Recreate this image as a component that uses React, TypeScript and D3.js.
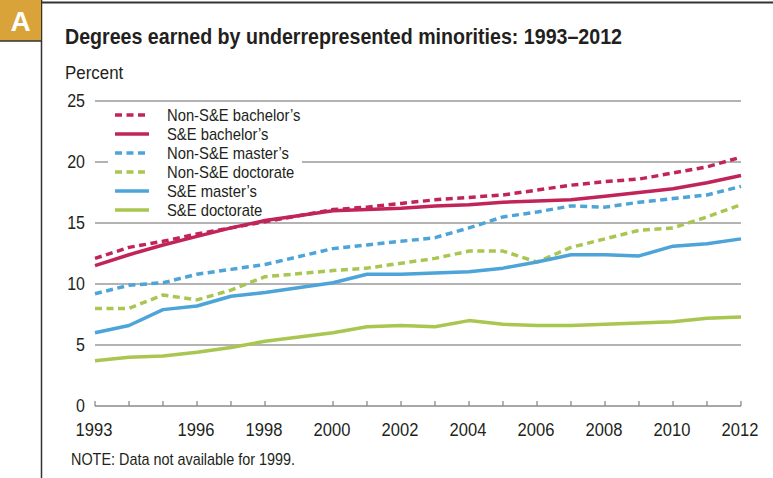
import React from "react";
import * as d3 from "d3";

// years with data (1999 missing)
const years = [1993, 1994, 1995, 1996, 1997, 1998, 2000, 2001, 2002, 2003, 2004, 2005, 2006, 2007, 2008, 2009, 2010, 2011, 2012];

const nonSEBachelors = [12.1, 13.0, 13.5, 14.1, 14.6, 15.1, 16.1, 16.3, 16.6, 16.9, 17.1, 17.3, 17.7, 18.1, 18.4, 18.6, 19.1, 19.6, 20.4];
const seBachelors = [11.5, 12.4, 13.2, 13.9, 14.6, 15.2, 16.0, 16.1, 16.2, 16.4, 16.5, 16.7, 16.8, 16.9, 17.2, 17.5, 17.8, 18.3, 18.9];
const nonSEMasters = [9.2, 9.9, 10.1, 10.8, 11.2, 11.6, 12.9, 13.2, 13.5, 13.8, 14.6, 15.5, 15.9, 16.4, 16.3, 16.7, 17.0, 17.3, 18.0];
const nonSEDoctorate = [8.0, 8.0, 9.1, 8.7, 9.5, 10.6, 11.1, 11.3, 11.7, 12.1, 12.7, 12.7, 11.8, 13.0, 13.7, 14.4, 14.6, 15.5, 16.5];
const seMasters = [6.0, 6.6, 7.9, 8.2, 9.0, 9.3, 10.1, 10.8, 10.8, 10.9, 11.0, 11.3, 11.8, 12.4, 12.4, 12.3, 13.1, 13.3, 13.7];
const seDoctorate = [3.7, 4.0, 4.1, 4.4, 4.8, 5.3, 6.0, 6.5, 6.6, 6.5, 7.0, 6.7, 6.6, 6.6, 6.7, 6.8, 6.9, 7.2, 7.3];

const tickYears = [1993, 1994, 1995, 1996, 1997, 1998, 2000, 2001, 2002, 2003, 2004, 2005, 2006, 2007, 2008, 2009, 2010, 2011, 2012];
const labelYears = [1993, 1996, 1998, 2000, 2002, 2004, 2006, 2008, 2010, 2012];
const yTicks = [0, 5, 10, 15, 20, 25];

const CRIMSON = "#c1245a";
const BLUE = "#4ca4d8";
const GREEN = "#a9c650";

const series = [
  { name: "Non-S&E bachelor\u2019s", values: nonSEBachelors, color: CRIMSON, dashed: true },
  { name: "S&E bachelor\u2019s", values: seBachelors, color: CRIMSON, dashed: false },
  { name: "Non-S&E master\u2019s", values: nonSEMasters, color: BLUE, dashed: true },
  { name: "Non-S&E doctorate", values: nonSEDoctorate, color: GREEN, dashed: true },
  { name: "S&E master\u2019s", values: seMasters, color: BLUE, dashed: false },
  { name: "S&E doctorate", values: seDoctorate, color: GREEN, dashed: false },
];

const FONT = "'Liberation Sans', Arial, sans-serif";
const INK = "#231f20";

// the source uses a condensed face, so squeeze the regular one a little
function CText(props: { x: number; y: number; size: number; anchor?: string; dy?: string; squeeze?: number; bold?: boolean; children: React.ReactNode }) {
  const k = props.squeeze ?? 0.89;
  return (
    <text
      transform={`translate(${props.x},${props.y}) scale(${k},1)`}
      fontSize={props.size}
      textAnchor={props.anchor || "start"}
      dy={props.dy}
      fontWeight={props.bold ? "bold" : undefined}
      fill={INK}
    >
      {props.children}
    </text>
  );
}

export default function App() {
  const x = d3.scaleLinear().domain([1993, 2012]).range([95, 741]);
  const y = d3.scaleLinear().domain([0, 25]).range([406, 101]);

  const line = d3
    .line<number>()
    .x((_, i) => x(years[i]))
    .y((d) => y(d));

  return (
    <svg
      width={773}
      height={478}
      style={{ position: "absolute", left: 0, top: 0, background: "#fff" }}
      fontFamily={FONT}
    >
      {/* frame */}
      <line x1={41.5} x2={41.5} y1={0} y2={478} stroke="#333" strokeWidth={1.5} />
      <line x1={41.5} x2={773} y1={2.5} y2={2.5} stroke="#333" strokeWidth={2} />
      <rect x={0} y={0} width={41} height={41} fill="#d9a33a" />
      <line x1={0} x2={42} y1={41} y2={41} stroke="#333" strokeWidth={1.5} />
      <text x={20.5} y={31} textAnchor="middle" fill="#fff" fontSize={28} fontWeight="bold">
        A
      </text>

      <text x={65} y={44} fontSize={22} fontWeight="bold" fill={INK} textLength={557} lengthAdjust="spacingAndGlyphs">
        Degrees earned by underrepresented minorities: 1993–2012
      </text>
      <CText x={65} y={79} size={19}>Percent</CText>

      {/* gridlines */}
      {yTicks.filter((t) => t > 0).map((t) => (
        <line key={t} x1={95} x2={741} y1={y(t)} y2={y(t)} stroke="#9a9a9a" strokeWidth={1.3} />
      ))}
      {yTicks.map((t) => (
        <CText key={t} x={85} y={y(t)} dy="0.36em" anchor="end" size={18}>
          {t}
        </CText>
      ))}

      {/* x axis */}
      <line x1={95} x2={741} y1={y(0)} y2={y(0)} stroke="#8a8a8a" strokeWidth={1.5} />
      {tickYears.map((t) => (
        <line key={t} x1={x(t)} x2={x(t)} y1={y(0)} y2={y(0) - 5} stroke="#8a8a8a" strokeWidth={1.3} />
      ))}
      {labelYears.map((t) => (
        <CText key={t} x={x(t) - 1} y={436} anchor="middle" size={18} squeeze={0.92}>
          {t}
        </CText>
      ))}

      {/* legend */}
      <rect x={108} y={104} width={194} height={114} fill="#fff" />
      {series.map((s, i) => (
        <g key={s.name} transform={`translate(0, ${115 + i * 19})`}>
          <line x1={115} x2={149} y1={0} y2={0} stroke={s.color} strokeWidth={3.5} strokeDasharray={s.dashed ? "7,4.5" : undefined} />
          <CText x={167} y={0} dy="0.36em" size={17} squeeze={0.87}>
            {s.name}
          </CText>
        </g>
      ))}

      {/* lines */}
      {series.map((s) => (
        <path
          key={s.name}
          d={line(s.values) || ""}
          fill="none"
          stroke={s.color}
          strokeWidth={3.5}
          strokeDasharray={s.dashed ? "7,4.5" : undefined}
          strokeLinejoin="round"
        />
      ))}

      <CText x={71} y={465} size={16} squeeze={0.9}>
        NOTE: Data not available for 1999.
      </CText>
    </svg>
  );
}
